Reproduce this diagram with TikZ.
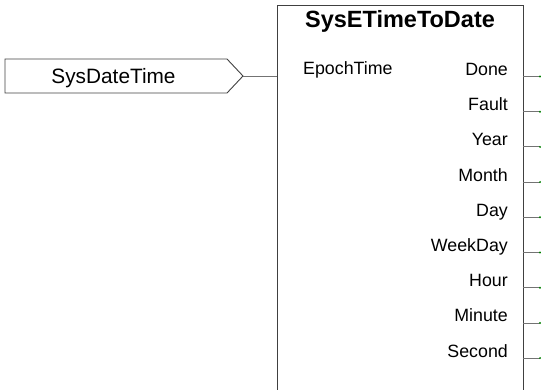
\documentclass[tikz,border=0pt]{standalone}
\usepackage{fontspec}
\setmainfont{Liberation Sans}
\begin{document}
\begin{tikzpicture}[x=1pt,y=-1pt,
  boxline/.style={draw=black!75, line width=0.9pt},
  wire/.style={draw=black!55, line width=0.8pt},
  portlbl/.style={anchor=base east, inner sep=0pt, font=\fontsize{17.8}{19}\selectfont},
  dot/.style={fill=green!50!black, inner sep=0pt, minimum size=2.2pt, circle}]
\useasboundingbox (0,0) rectangle (541,390);
% input tag
\draw[boxline] (5,59) -- (227,59) -- (243,76) -- (227,93) -- (5,93) -- cycle;
\node[anchor=base, inner sep=0pt, font=\fontsize{20.8}{22}\selectfont] (tag) at (113.5,84) {SysDateTime};
\coordinate (tagtip) at (243,76);
% block
\draw[boxline] (277,395) -- (277,5.5) -- (523,5.5) -- (523,395);
\coordinate (blk) at (277,76);
\node[anchor=base, inner sep=0pt, font=\bfseries\fontsize{23.5}{25}\selectfont] (title) at (400,28) {SysETimeToDate};
\node[anchor=base west, inner sep=0pt, font=\fontsize{17.8}{19}\selectfont] (epoch) at (303,75) {EpochTime};
\draw[wire] (tagtip) -- (blk);
\foreach \n/\lab [count=\i from 0] in {done/Done,fault/Fault,year/Year,month/Month,day/Day,wday/WeekDay,hour/Hour,minute/Minute,second/Second}{
  \pgfmathsetmacro{\yy}{76.5+35.2*\i}
  \node[portlbl] (\n) at (508,\yy-1) {\lab};
  \coordinate (\n a) at (523,\yy);
  \coordinate (\n b) at (540,\yy);
  \draw[wire] (\n a) -- (\n b);
  \node[dot] at (\n b) {};
}
\end{tikzpicture}
\end{document}
